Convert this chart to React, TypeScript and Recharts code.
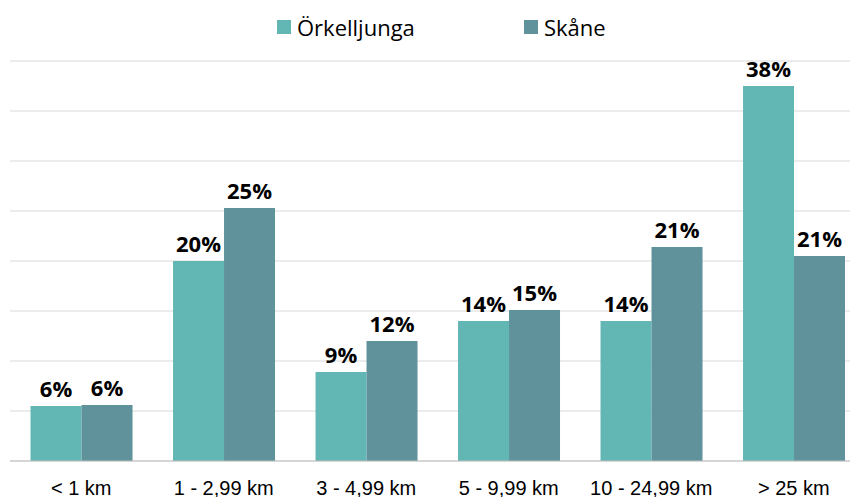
import { BarChart, Bar, XAxis, YAxis, CartesianGrid, LabelList } from "recharts";

const CATEGORIES = ["< 1 km", "1 - 2,99 km", "3 - 4,99 km", "5 - 9,99 km", "10 - 24,99 km", "> 25 km"];
const ORKELLJUNGA = [5.5, 20.0, 8.9, 14.0, 14.0, 37.5];
const SKANE = [5.6, 25.3, 12.0, 15.1, 21.4, 20.5];
const Y_TICKS = [0, 5, 10, 15, 20, 25, 30, 35, 40];
const EDGE_TICKS = [0, 1, 2, 3, 4, 5, 6];

const COLOR_ORK = "#62b7b4";
const COLOR_SKANE = "#60929b";

const data = CATEGORIES.map((name, i) => ({
  name,
  ork: ORKELLJUNGA[i],
  skane: SKANE[i],
}));

const pct = (v: number) => `${Math.round(v)}%`;

function LegendItem({ color, label }: { color: string; label: string }) {
  return (
    <div style={{ display: "flex", alignItems: "center" }}>
      <div style={{ width: 14, height: 14, background: color, marginRight: 6 }} />
      <span style={{ fontSize: 22, color: "#000", lineHeight: "28px" }}>{label}</span>
    </div>
  );
}

export default function App() {
  return (
    <div
      style={{
        position: "absolute",
        left: 0,
        top: 0,
        width: 850,
        height: 497,
        overflow: "hidden",
        background: "#fff",
        fontFamily: "'Open Sans', sans-serif",
      }}
    >
      <div style={{ position: "absolute", left: 277, top: 13, display: "flex", gap: 0 }}>
        <div style={{ width: 247 }}>
          <LegendItem color={COLOR_ORK} label="Örkelljunga" />
        </div>
        <LegendItem color={COLOR_SKANE} label="Skåne" />
      </div>
      <BarChart
        width={875}
        height={497}
        data={data}
        margin={{ top: 61, right: 10, bottom: 0, left: 10 }}
        barCategoryGap="14.4%"
        barGap={0}
      >
        <CartesianGrid horizontal vertical={false} stroke="#d9d9d9" />
        <XAxis
          xAxisId="edges"
          type="number"
          domain={[0, 6]}
          ticks={EDGE_TICKS}
          tick={false}
          tickSize={6}
          tickLine={{ stroke: "#bfbfbf" }}
          axisLine={false}
          height={0}
        />
        <XAxis
          dataKey="name"
          interval={0}
          height={36}
          tickLine={false}
          tickMargin={14}
          axisLine={{ stroke: "#bfbfbf" }}
          tick={{ fill: "#000", fontSize: 20, fontFamily: "'Liberation Sans', Arial, sans-serif" }}
        />
        <YAxis hide domain={[0, 40]} ticks={Y_TICKS} />
        <Bar dataKey="ork" name="Örkelljunga" fill={COLOR_ORK} isAnimationActive={false}>
          <LabelList
            dataKey="ork"
            position="top"
            offset={9}
            formatter={pct}
            style={{ fill: "#000", fontSize: 22, fontWeight: 700, fontFamily: "'Open Sans', sans-serif" }}
          />
        </Bar>
        <Bar dataKey="skane" name="Skåne" fill={COLOR_SKANE} isAnimationActive={false}>
          <LabelList
            dataKey="skane"
            position="top"
            offset={9}
            formatter={pct}
            style={{ fill: "#000", fontSize: 22, fontWeight: 700, fontFamily: "'Open Sans', sans-serif" }}
          />
        </Bar>
      </BarChart>
    </div>
  );
}
